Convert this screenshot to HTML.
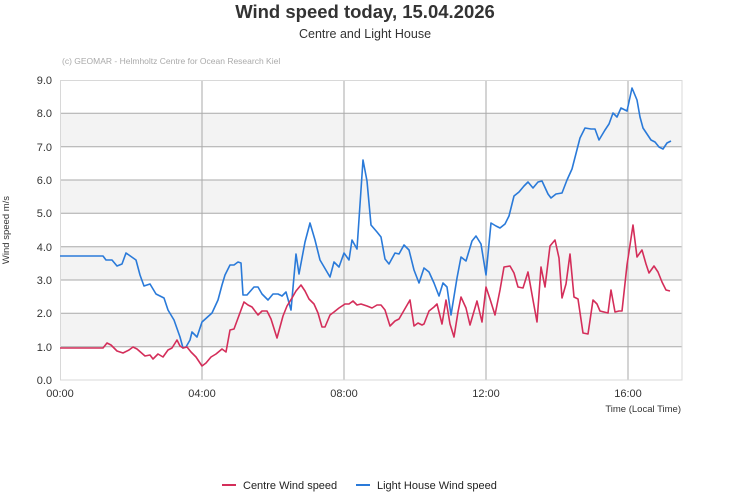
<!DOCTYPE html>
<html><head><meta charset="utf-8"><style>
body{margin:0;background:#fff;}
svg{display:block;font-family:"Liberation Sans",sans-serif;}
</style></head><body>
<svg width="731" height="500" viewBox="0 0 731 500">
<text x="365" y="18" text-anchor="middle" font-size="18.5" font-weight="bold" fill="#333">Wind speed today, 15.04.2026</text>
<text x="365" y="38" text-anchor="middle" font-size="12.5" fill="#333">Centre and Light House</text>
<text x="62" y="64" font-size="8.5" fill="#aaa">(c) GEOMAR - Helmholtz Centre for Ocean Research Kiel</text>
<g fill="#f3f3f3">
<rect x="60" y="313.3" width="622" height="33.3"/>
<rect x="60" y="246.7" width="622" height="33.3"/>
<rect x="60" y="180" width="622" height="33.3"/>
<rect x="60" y="113.3" width="622" height="33.3"/>
</g>
<g stroke="#aaa" stroke-width="1">
<line x1="60" y1="113.3" x2="682" y2="113.3"/><line x1="60" y1="146.7" x2="682" y2="146.7"/>
<line x1="60" y1="180" x2="682" y2="180"/><line x1="60" y1="213.3" x2="682" y2="213.3"/>
<line x1="60" y1="246.7" x2="682" y2="246.7"/><line x1="60" y1="280" x2="682" y2="280"/>
<line x1="60" y1="313.3" x2="682" y2="313.3"/><line x1="60" y1="346.7" x2="682" y2="346.7"/>
<line x1="202" y1="80" x2="202" y2="380"/><line x1="344" y1="80" x2="344" y2="380"/>
<line x1="486" y1="80" x2="486" y2="380"/><line x1="628" y1="80" x2="628" y2="380"/>
</g>
<rect x="60.5" y="80.5" width="621.5" height="299.5" fill="none" stroke="#d8d8d8"/>
<g font-size="11" fill="#333" text-anchor="end">
<text x="52" y="84">9.0</text><text x="52" y="117">8.0</text><text x="52" y="151">7.0</text>
<text x="52" y="184">6.0</text><text x="52" y="217">5.0</text><text x="52" y="251">4.0</text>
<text x="52" y="284">3.0</text><text x="52" y="317">2.0</text><text x="52" y="351">1.0</text>
<text x="52" y="384">0.0</text>
</g>
<g font-size="11" fill="#333" text-anchor="middle">
<text x="60" y="397">00:00</text><text x="202" y="397">04:00</text><text x="344" y="397">08:00</text>
<text x="486" y="397">12:00</text><text x="628" y="397">16:00</text>
</g>
<text x="681" y="412" font-size="9.5" fill="#333" text-anchor="end">Time (Local Time)</text>
<text transform="translate(9 230) rotate(-90)" font-size="9.5" fill="#333" text-anchor="middle">Wind speed  m/s</text>
<polyline fill="none" stroke="#2a7ad9" stroke-width="1.6" stroke-linejoin="round" points="60,256 103,256 106,260 112,260 117,266 122,264 126,253 136,260 140,275 144,286 150,284 156,294 164,298 168,310 174,320 180,337 183,348 186,347 190,340 192,332 197,337 202,322 212,313 218,300 222,285 225,275 230,265 234,265 238,262 241,263 243,295 247,295 254,287 258,287 262,294 268,300 273,294 278,294 282,296 286,292 291,310 296,254 299,274 305,242 310,223 315,240 320,260 330,277 334,262 339,267 344,253 349,260 352,240 357,249 363,160 367,181 371,225 377,232 381,237 385,259 389,264 395,253 399,254 404,245 409,250 414,270 419,283 424,268 429,272 434,283 439,296 443,283 447,287 451,315 457,278 461,257 466,261 472,241 476,236 481,244 486,275 491,223 496,226 500,228 505,224 509,216 514,196 519,192 524,186 528,182 533,188 538,182 542,181 548,194 551,198 556,194 562,193 567,180 572,169 580,138 585,128 591,129 595,129 599,140 605,130 609,124 613,113 617,117 621,108 627,111 632,88 637,100 640,117 643,128 647,134 651,140 655,142 659,147 663,149 667,143 671,141"/>
<polyline fill="none" stroke="#d42e5a" stroke-width="1.6" stroke-linejoin="round" points="60,348 103,348 107,343 111,345 117,351 123,353 129,350 133,347 137,349 145,356 150,355 153,359 158,354 163,357 168,350 172,348 177,340 180,346 183,348 187,347 191,352 196,357 202,366 206,363 211,357 216,354 222,349 226,352 230,330 234,329 241,310 244,302 248,305 252,307 258,315 262,311 267,311 271,319 277,338 283,316 287,306 292,298 296,291 301,285 305,291 309,299 314,304 318,313 322,327 325,327 330,315 334,312 339,308 345,304 349,304 353,301 357,305 361,304 367,306 372,308 377,305 381,305 385,310 390,326 395,321 399,319 410,300 414,326 418,323 422,325 424,324 429,311 434,307 437,304 442,324 446,300 450,324 454,337 458,312 461,297 466,308 470,325 477,301 482,322 486,287 490,299 495,315 500,290 504,267 510,266 514,273 518,287 523,288 528,272 533,300 537,322 541,267 545,287 550,246 555,240 559,258 562,298 566,284 570,254 574,297 578,299 583,333 588,334 593,300 597,304 600,311 608,313 611,290 615,312 619,311 622,311 627,265 633,225 637,257 642,250 646,264 649,273 654,266 658,272 662,282 666,290 670,291"/>
<line x1="222" y1="485" x2="236" y2="485" stroke="#d42e5a" stroke-width="2"/>
<text x="243" y="489" font-size="11" fill="#222">Centre Wind speed</text>
<line x1="356" y1="485" x2="370" y2="485" stroke="#2a7ad9" stroke-width="2"/>
<text x="377" y="489" font-size="11" fill="#222">Light House Wind speed</text>
</svg>
</body></html>
